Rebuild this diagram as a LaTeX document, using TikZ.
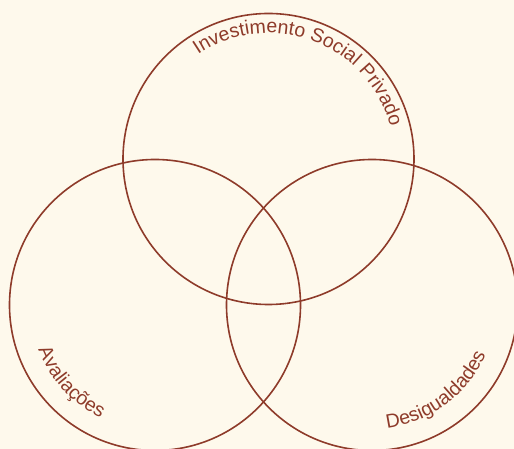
\documentclass[tikz,border=0pt]{standalone}
\usepackage{fontspec}
\setmainfont{Liberation Sans}
\usetikzlibrary{decorations.text}

\definecolor{venn}{HTML}{8E3B2A}
\definecolor{paper}{HTML}{FEF9EC}
\newcommand{\arcfont}{\fontsize{19.5}{19.5}\selectfont\color{venn}}

\begin{document}
\begin{tikzpicture}[
  x=1pt, y=1pt,
  ring/.style={circle, draw=venn, line width=1.6pt, minimum size=291pt, inner sep=0pt},
  arclabel/.style={decorate, decoration={text along path, text align=left, text={|\arcfont|#1}}},
]
  \fill[paper] (0,0) rectangle (514,449);
  \useasboundingbox (0,0) rectangle (514,449);
  \clip (0,0) rectangle (514,449);

  \node[ring] (isp) at (268.5,290) {};
  \node[ring] (aval) at (155,144) {};
  \node[ring] (desig) at (372,144) {};

  % labels run along the inside of each ring
  \path[arclabel=Investimento Social Privado]
    (isp.center) ++(124:126) arc[start angle=124, end angle=-20, radius=126];
  \path[arclabel=Avaliações]
    (aval.center) ++(201:125) arc[start angle=201, end angle=280, radius=125];
  \path[arclabel=Desigualdades]
    (desig.center) ++(277:124) arc[start angle=277, end angle=360, radius=124];
\end{tikzpicture}
\end{document}
